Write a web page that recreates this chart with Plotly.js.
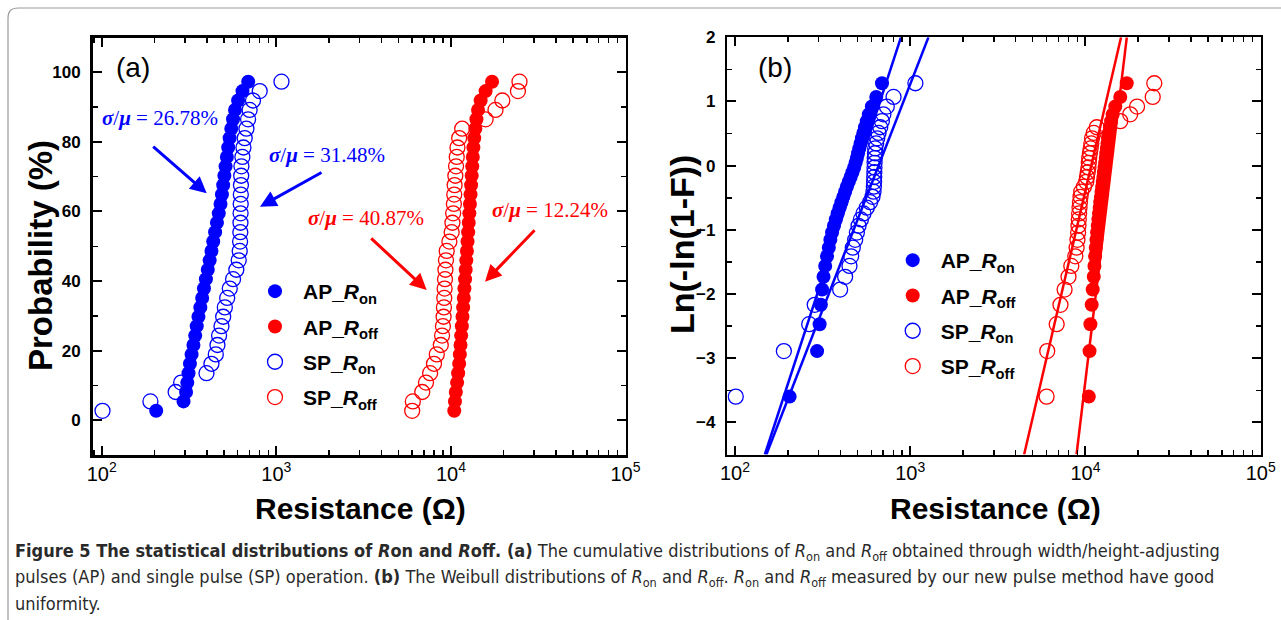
<!DOCTYPE html>
<html>
<head>
<meta charset="utf-8">
<script src="https://cdn.plot.ly/plotly-3.0.1.min.js"></script>
<style>html,body{margin:0;padding:0;background:#fff;}#chart{width:1281px;height:620px;}</style>
</head>
<body>
<div id="chart"></div>
<script>
// Cumulative probability (%) of each ranked sample (36 samples, i/37)
const prob = [2.70, 5.41, 8.11, 10.81, 13.51, 16.22, 18.92, 21.62, 24.32, 27.03, 29.73, 32.43,
  35.14, 37.84, 40.54, 43.24, 45.95, 48.65, 51.35, 54.05, 56.76, 59.46, 62.16, 64.86,
  67.57, 70.27, 72.97, 75.68, 78.38, 81.08, 83.78, 86.49, 89.19, 91.89, 94.59, 97.30];

// Resistance values (Ohm), sorted
const apRon = [205, 294, 304, 309, 314, 320, 327, 335, 343, 350, 358, 367, 376, 385, 395, 405, 415, 425,
  435, 446, 457, 468, 479, 488, 496, 504, 512, 521, 530, 540, 552, 565, 580, 604, 640, 690];
const apRoff = [10450, 10550, 10670, 10850, 11000, 11150, 11250, 11350, 11450, 11550, 11650, 11750,
  11850, 11950, 12050, 12150, 12250, 12350, 12450, 12550, 12650, 12750, 12850, 12950,
  13050, 13150, 13250, 13350, 13450, 13600, 13800, 14000, 14300, 14800, 15800, 17200];
const spRon = [101, 190, 265, 285, 398, 425, 450, 460, 470, 485, 496, 507, 523, 541, 565, 590, 609, 617,
  620, 622, 623, 624, 625, 626, 627, 629, 631, 639, 648, 659, 674, 689, 703, 735, 803, 1070];
const spRoff = [6000, 6050, 6850, 7200, 7600, 8000, 8300, 8750, 8900, 9000, 9080, 9120, 9160, 9200,
  9250, 9300, 9370, 9460, 9800, 10100, 10200, 10300, 10400, 10450, 10500, 10600, 10700, 10800,
  10900, 11150, 11600, 15800, 18000, 19700, 24200, 24700];

// Weibull fit lines (end points: resistance, ln(-ln(1-F)))
const fitApRonX = [148, 885],   fitApRonY = [-4.5, 2];
const fitSpRonX = [151, 1270],  fitSpRonY = [-4.5, 2];
const fitApRoffX = [8890, 17210], fitApRoffY = [-4.5, 2];
const fitSpRoffX = [4467, 15960], fitSpRoffY = [-4.5, 2];

// Legend labels and annotations
const names = ['AP_<i>R</i><sub>on</sub>', 'AP_<i>R</i><sub>off</sub>', 'SP_<i>R</i><sub>on</sub>', 'SP_<i>R</i><sub>off</sub>'];
const cvLabels = ['26.78%', '31.48%', '40.87%', '12.24%'];

const weib = prob.map(p => Math.log(-Math.log(1 - p / 100)));

const BLUE = '#0000ff', RED = '#ff0000';
const series = [
  {x: apRon, c: BLUE, open: false, n: names[0]},
  {x: apRoff, c: RED, open: false, n: names[1]},
  {x: spRon, c: BLUE, open: true, n: names[2]},
  {x: spRoff, c: RED, open: true, n: names[3]}
];

function mk(s, open) {
  return open
    ? {symbol: 'circle-open', size: 15, color: s.c, line: {color: s.c, width: 1.3}}
    : {symbol: 'circle', size: 14, color: s.c, line: {width: 0}};
}

const traces = [];
series.forEach((s, k) => {
  traces.push({type: 'scatter', mode: 'markers', x: s.x, y: prob, xaxis: 'x', yaxis: 'y',
    name: s.n, marker: mk(s, s.open), legend: 'legend', legendgroup: 'a' + k, hoverinfo: 'skip'});
});
series.forEach((s, k) => {
  traces.push({type: 'scatter', mode: 'markers', x: s.x, y: weib, xaxis: 'x2', yaxis: 'y2',
    name: s.n, marker: mk(s, s.open), legend: 'legend2', legendgroup: 'b' + k, hoverinfo: 'skip'});
});
[[fitApRonX, fitApRonY, BLUE], [fitSpRonX, fitSpRonY, BLUE], [fitApRoffX, fitApRoffY, RED], [fitSpRoffX, fitSpRoffY, RED]]
  .forEach(f => traces.push({type: 'scatter', mode: 'lines', x: f[0], y: f[1], xaxis: 'x2', yaxis: 'y2',
    line: {color: f[2], width: 2.5}, showlegend: false, hoverinfo: 'skip'}));

const W = 1281, H = 620;
const px = v => v / W, py = v => 1 - v / H;
const SANS = 'Arial, Liberation Sans, sans-serif';
const SERIF = 'Times New Roman, Liberation Serif, serif';

function xax(domain, range) {
  return {type: 'log', range: range, domain: domain, dtick: 1, exponentformat: 'power',
    showline: true, linecolor: '#000', linewidth: 2.5, mirror: 'ticks',
    ticks: 'inside', ticklen: 9, tickwidth: 2, tickcolor: '#000', ticklabelstandoff: 0,
    minor: {ticks: 'inside', ticklen: 5, tickwidth: 1.5, tickcolor: '#000', dtick: 'D1'},
    showgrid: false, zeroline: false, tickfont: {family: SANS, size: 16, color: '#000'}};
}
function yax(domain, range, dt, anchor) {
  return {range: range, domain: domain, dtick: dt, anchor: anchor,
    showline: true, linecolor: '#000', linewidth: 2.5, mirror: 'ticks',
    ticks: 'inside', ticklen: 9, tickwidth: 2, tickcolor: '#000', ticklabelstandoff: 6,
    minor: {ticks: 'inside', ticklen: 5, tickwidth: 1.5, tickcolor: '#000', dtick: dt / 2},
    showgrid: false, zeroline: false,
    tickfont: {family: SANS, size: 17, color: '#000', weight: 'bold'}};
}

const ann = [];
function txt(text, x, y, size, extra) {
  ann.push(Object.assign({text: text, x: px(x), y: py(y), xref: 'paper', yref: 'paper', showarrow: false,
    xanchor: 'center', yanchor: 'middle', font: {family: SANS, size: size, color: '#000'}}, extra || {}));
}
txt('(a)', 133, 68, 28);
txt('(b)', 775, 68, 28);
// axis titles
txt('<b>Probability (%)</b>', 41, 256, 33, {textangle: -90});
txt('<b>Ln(-ln(1-F))</b>', 682, 245, 34, {textangle: -90});
txt('<b>Resistance (Ω)</b>', 360, 508, 30);
txt('<b>Resistance (Ω)</b>', 995, 508, 30);
// sigma/mu labels
const cvPos = [[100, 118, BLUE], [267, 155, BLUE], [306, 218, RED], [490, 210, RED]];
cvPos.forEach((p, k) => ann.push({text: '<b><i>σ</i></b>/<b><i>μ</i></b> = ' + cvLabels[k], x: px(p[0]), y: py(p[1]),
  xref: 'paper', yref: 'paper', xanchor: 'left', yanchor: 'middle', showarrow: false,
  font: {family: SERIF, size: 21, color: p[2]}}));
// arrows: head (x,y), tail offsets
const arr = [[206.7, 193.3, -55, -48, BLUE], [260, 206.7, 63, -35, BLUE], [426.7, 290, -57, -53, RED], [485, 281.7, 51, -53, RED]];
arr.forEach(a => ann.push({text: '', x: px(a[0]), y: py(a[1]), xref: 'paper', yref: 'paper', ax: a[2], ay: a[3],
  showarrow: true, arrowhead: 2, arrowsize: 1.1, arrowwidth: 3, arrowcolor: a[4], standoff: 0}));
// caption
const CAP = 'Liberation Sans Narrow, DejaVu Sans Condensed, Arial Narrow, sans-serif';
const capLines = [
  '<b>Figure 5 The statistical distributions of <i>R</i>on and <i>R</i>off. (a)</b> The cumulative distributions of <i>R</i><sub>on</sub> and <i>R</i><sub>off</sub> obtained through width/height-adjusting',
  'pulses (AP) and single pulse (SP) operation. <b>(b)</b> The Weibull distributions of <i>R</i><sub>on</sub> and <i>R</i><sub>off</sub>. <i>R</i><sub>on</sub> and <i>R</i><sub>off</sub> measured by our new pulse method have good',
  'uniformity.'
];
[552, 578, 603].forEach((yy, k) => ann.push({text: capLines[k], x: px(13), y: py(yy), xref: 'paper', yref: 'paper',
  xanchor: 'left', yanchor: 'middle', showarrow: false, font: {family: CAP, size: 18, color: '#2a2a2a'}}));

const layout = {
  width: W, height: H, margin: {l: 0, r: 0, t: 0, b: 0},
  paper_bgcolor: '#fff', plot_bgcolor: '#fff', showlegend: true,
  xaxis: Object.assign(xax([px(92.5), px(625.5)], [1.947, 5]), {anchor: 'y'}),
  yaxis: yax([py(455), py(37.5)], [-10, 110], 20, 'x'),
  xaxis2: Object.assign(xax([px(727.3), px(1260.7)], [1.956, 5]), {anchor: 'y2'}),
  yaxis2: yax([py(454.5), py(37.3)], [-4.5, 2], 1, 'x2'),
  legend: {x: px(247), y: py(271), xanchor: 'left', yanchor: 'top', bgcolor: 'rgba(0,0,0,0)',
    font: {family: SANS, size: 21, color: '#000', weight: 'bold'}, tracegroupgap: 5, itemwidth: 46},
  legend2: {x: px(884.7), y: py(240), xanchor: 'left', yanchor: 'top', bgcolor: 'rgba(0,0,0,0)',
    font: {family: SANS, size: 21, color: '#000', weight: 'bold'}, tracegroupgap: 5, itemwidth: 46},
  annotations: ann,
  shapes: [{type: 'path', xref: 'paper', yref: 'paper',
    path: 'M ' + px(8) + ',' + py(640) + ' L ' + px(8) + ',' + py(18) + ' Q ' + px(8) + ',' + py(8) + ' ' + px(18) + ',' + py(8) + ' L ' + px(1300) + ',' + py(8),
    line: {color: '#9a9a9a', width: 1.2}}]
};

Plotly.newPlot('chart', traces, layout, {displayModeBar: false, staticPlot: true});
</script>
</body>
</html>
